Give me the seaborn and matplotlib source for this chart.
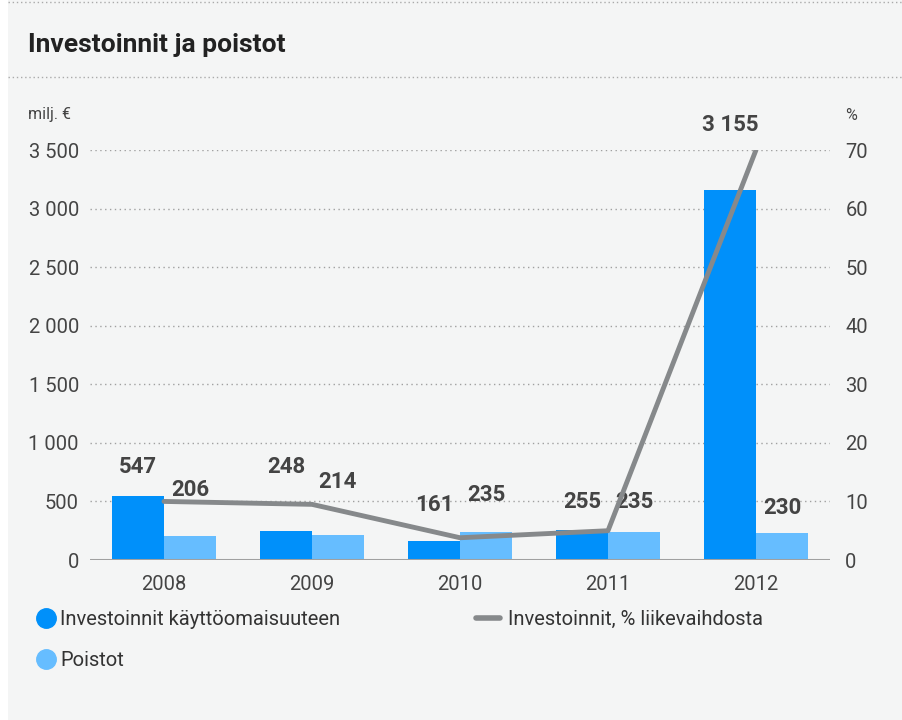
import pandas as pd
import matplotlib.pyplot as plt
import seaborn as sns
from matplotlib.lines import Line2D
from matplotlib.patches import Rectangle

years = ['2008', '2009', '2010', '2011', '2012']
investoinnit = [547, 248, 161, 255, 3155]
poistot = [206, 214, 235, 235, 230]
pct_liikevaihdosta = [10.0, 9.5, 3.8, 5.0, 70.0]
left_ticks = [0, 500, 1000, 1500, 2000, 2500, 3000, 3500]
left_labels = ['0', '500', '1 000', '1 500', '2 000', '2 500', '3 000', '3 500']
right_ticks = [0, 10, 20, 30, 40, 50, 60, 70]

name_inv = 'Investoinnit käyttöomaisuuteen'
name_poi = 'Poistot'
name_pct = 'Investoinnit, % liikevaihdosta'

df = pd.DataFrame({'Vuosi': years * 2,
                   'Arvo': investoinnit + poistot,
                   'Sarja': [name_inv] * 5 + [name_poi] * 5})

dark = '#0090fa'
light = '#66bdff'
grey_line = '#86898b'
txt = '#444444'

sns.set_style('white')
plt.rcParams['font.family'] = ['Roboto', 'DejaVu Sans']

fig = plt.figure(figsize=(9.03, 7.2), dpi=100)
fig.patch.set_facecolor('white')
fig.add_artist(Rectangle((8 / 903, 0), 1, 1, transform=fig.transFigure,
                         facecolor='#f4f5f5', edgecolor='none', zorder=-10))
for yy in [2, 77]:
    fig.add_artist(Line2D([8 / 903, 1], [1 - yy / 720] * 2, transform=fig.transFigure,
                          color='#aaaaaa', lw=1, linestyle=(0, (1, 2))))
fig.text(28 / 903, 1 - 45 / 720, 'Investoinnit ja poistot', fontsize=19,
         fontweight='bold', color='#222222', va='center', ha='left')
fig.text(28 / 903, 1 - 115 / 720, 'milj. €', fontsize=11.5, color=txt, va='center')
fig.text(845 / 903, 1 - 115 / 720, '%', fontsize=11.5, color=txt, va='center')

ax = fig.add_axes([90 / 903, 1 - 560 / 720, 740 / 903, 410 / 720])
ax.set_facecolor('none')
sns.barplot(data=df, x='Vuosi', y='Arvo', hue='Sarja', palette=[dark, light],
            width=0.7, gap=0, saturation=1, legend=False, ax=ax, zorder=2,
            linewidth=0)
ax.set_xlim(-0.5, 4.5)
ax.set_ylim(0, 3500)
ax.set_yticks(left_ticks)
ax.set_yticklabels(left_labels)
ax.set_xlabel('')
ax.set_ylabel('')
ax.grid(axis='y', color='#a0a0a0', lw=1, linestyle=(0, (1, 2.5)), zorder=0)
ax.set_axisbelow(True)
ax.axhline(0, color='#a0a0a0', lw=2.2, zorder=3)
ax.tick_params(axis='both', length=0, labelsize=14.5, labelcolor=txt)
ax.tick_params(axis='y', pad=8)
ax.tick_params(axis='x', pad=11)
for s in ax.spines.values():
    s.set_visible(False)

offsets = [[29, 64, 36, 28, 65], [46, 53, 37, 30, 25]]
for cont, offs in zip(ax.containers, offsets):
    for bar, off in zip(cont, offs):
        ax.annotate(f'{int(bar.get_height()):,}'.replace(',', ' '),
                    xy=(bar.get_x() + bar.get_width() / 2, bar.get_height()),
                    xytext=(0, off), textcoords='offset pixels', ha='center',
                    va='center', fontsize=16, fontweight='bold', color=txt,
                    annotation_clip=False)

ax2 = ax.twinx()
sns.lineplot(x=list(range(5)), y=pct_liikevaihdosta, ax=ax2, color=grey_line,
             lw=3.5, zorder=4)
ax2.set_ylim(0, 70)
ax2.set_yticks(right_ticks)
ax2.tick_params(axis='y', length=0, labelsize=14.5, labelcolor=txt, pad=11)
for s in ax2.spines.values():
    s.set_visible(False)

h1 = [Line2D([], [], marker='o', ls='none', color=dark, markersize=14),
      Line2D([], [], marker='o', ls='none', color=light, markersize=14)]
fig.legend(h1, [name_inv, name_poi], loc='upper left',
           bbox_to_anchor=(16 / 903, 1 - 592 / 720), frameon=False,
           fontsize=14.5, labelcolor='#333333', handletextpad=0.1,
           handlelength=1.2, labelspacing=1.1)
h2 = [Line2D([], [], color=grey_line, lw=4)]
fig.legend(h2, [name_pct], loc='upper left',
           bbox_to_anchor=(458 / 903, 1 - 592 / 720), frameon=False,
           fontsize=14.5, labelcolor='#333333', handletextpad=0.4,
           handlelength=1.2)

plt.savefig('out.png', dpi=100)
